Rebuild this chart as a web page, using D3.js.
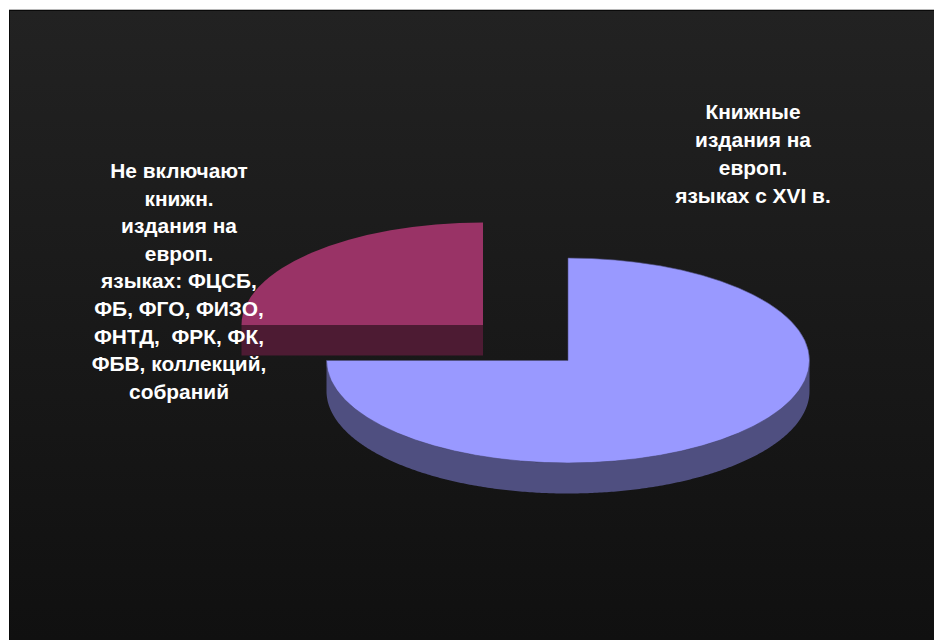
<!DOCTYPE html>
<html><head><meta charset="utf-8">
<script src="https://cdn.jsdelivr.net/npm/d3@7"></script>
<style>html,body{margin:0;padding:0;background:#fff;overflow:hidden}svg{display:block}</style>
</head><body><svg id="c" width="934" height="640"></svg>
<script>
const categories = ["Книжные издания", "Не включают"];
const seriesValues = [75, 25];
const topColors = ["#9999ff", "#993366"];
const sideColors = ["#4f4f80", "#4d1b33"];
const labelLines = [
  ["Книжные", "издания на", "европ.", "языках с XVI в."],
  ["Не включают", "книжн.", "издания на", "европ.", "языках: ФЦСБ,", "ФБ, ФГО, ФИЗО,", "ФНТД,  ФРК, ФК,", "ФБВ, коллекций,", "собраний"]
];
const centers = [[568, 360.5], [483, 325]];
const labelPos = [[753, 119, 28.0], [179, 178, 27.6]];
const RX = 241.5, RY = 102.5, DEPTH = 30.5;

const svg = d3.select("#c");
const defs = svg.append("defs");
const g = defs.append("linearGradient").attr("id","bg").attr("x1",0).attr("y1",0).attr("x2",0).attr("y2",1);
g.append("stop").attr("offset","0%").attr("stop-color","#222222");
g.append("stop").attr("offset","100%").attr("stop-color","#101010");

svg.append("rect").attr("x",9).attr("y",9).attr("width",925).attr("height",631).attr("fill","#0a0a0a");
svg.append("rect").attr("x",9).attr("y",9).attr("width",925).attr("height",1).attr("fill","#b8b8b8");
svg.append("rect").attr("x",10).attr("y",11).attr("width",924).attr("height",629).attr("fill","url(#bg)");

const pie = d3.pie().sort(null).value(d => d)(seriesValues);
const arc = d3.arc().innerRadius(0).outerRadius(1);

[1, 0].forEach(i => {
  const p = pie[i], [cx, cy] = centers[i];
  const a0 = Math.max(p.startAngle, Math.PI / 2), a1 = Math.min(p.endAngle, 3 * Math.PI / 2);
  const layer = svg.append("g");
  if (a1 > a0) {
    const ang = d3.range(a0, a1, 0.01).concat([a1]);
    const wall = d3.area()
      .x(a => cx + RX * Math.sin(a))
      .y0(a => cy - RY * Math.cos(a))
      .y1(a => cy - RY * Math.cos(a) + DEPTH);
    layer.append("path").attr("d", wall(ang)).attr("fill", sideColors[i]);
  }
  if (p.startAngle >= 3 * Math.PI / 2 - 1e-6) {
    const x = d3.scaleLinear().domain([0, 1]).range([cx - RX, cx]);
    layer.append("rect").attr("x", x(0)).attr("y", cy).attr("width", x(1) - x(0)).attr("height", DEPTH).attr("fill", sideColors[i]);
  }
  layer.append("path")
    .attr("d", arc(p))
    .attr("transform", `translate(${cx},${cy}) scale(${RX},${RY})`)
    .attr("fill", topColors[i])
    .attr("stroke", i === 0 ? sideColors[i] : "none")
    .attr("stroke-width", 0.6)
    .attr("vector-effect", "non-scaling-stroke");
});

labelLines.forEach((lines, i) => {
  const [x, y, lh] = labelPos[i];
  svg.append("g").selectAll("text").data(lines).join("text")
    .attr("x", x).attr("y", (d, k) => y + k * lh)
    .attr("text-anchor", "middle")
    .attr("font-family", "Liberation Sans, Arial, sans-serif")
    .attr("font-weight", "bold").attr("font-size", 20.9)
    .attr("fill", "#ffffff").style("white-space", "pre")
    .text(d => d);
});
</script></body></html>
